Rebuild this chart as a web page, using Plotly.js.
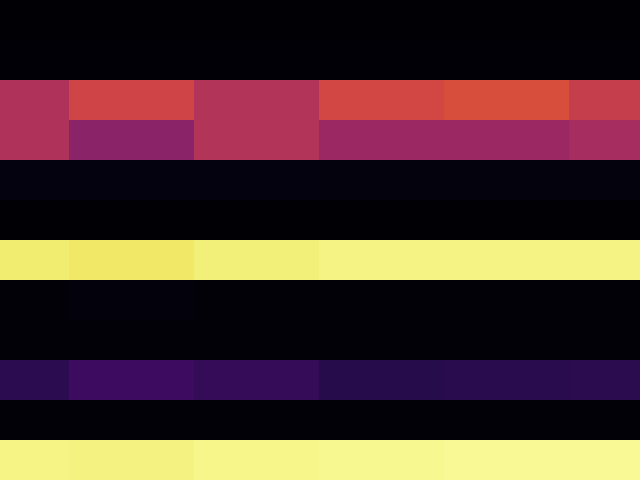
<!DOCTYPE html>
<html><head><meta charset="utf-8">
<script src="https://cdn.plot.ly/plotly-3.0.1.min.js"></script>
<style>html,body{margin:0;padding:0;background:#000;}#chart{width:640px;height:480px;}</style>
</head><body><div id="chart"></div>
<script>
const cols = [0, 1, 2, 3, 4, 5];
const rows = [0, 1, 2, 3, 4, 5, 6, 7, 8, 9, 10, 11];
const row0  = [0.001, 0.001, 0.001, 0.001, 0.001, 0.001];
const row1  = [0.004, 0.004, 0.004, 0.004, 0.004, 0.004];
const row2  = [0.470, 0.556, 0.480, 0.565, 0.585, 0.530];
const row3  = [0.470, 0.380, 0.480, 0.420, 0.420, 0.447];
const row4  = [0.020, 0.022, 0.018, 0.016, 0.016, 0.016];
const row5  = [0.002, 0.002, 0.002, 0.002, 0.002, 0.002];
const row6  = [0.950, 0.940, 0.958, 0.968, 0.968, 0.968];
const row7  = [0.007, 0.012, 0.007, 0.007, 0.007, 0.007];
const row8  = [0.007, 0.007, 0.007, 0.007, 0.007, 0.007];
const row9  = [0.152, 0.192, 0.170, 0.140, 0.143, 0.148];
const row10 = [0.006, 0.006, 0.006, 0.006, 0.006, 0.006];
const row11 = [0.970, 0.965, 0.975, 0.980, 0.985, 0.985];
const zValues = [row0,row1,row2,row3,row4,row5,row6,row7,row8,row9,row10,row11];

const inferno = [
  [0.0, '#000004'], [0.1111, '#1b0c41'], [0.2222, '#4a0c6b'], [0.3333, '#781c6d'],
  [0.4444, '#a52c60'], [0.5556, '#cf4446'], [0.6667, '#ed6925'], [0.7778, '#fb9b06'],
  [0.8889, '#f7d13d'], [0.95, '#f1ed71'], [1.0, '#fcffa4']
];

Plotly.newPlot('chart', [{
  type: 'heatmap', x: cols, y: rows, z: zValues,
  colorscale: inferno, zmin: 0, zmax: 1, showscale: false
}], {
  width: 640, height: 480,
  margin: {l: 0, r: 0, t: 0, b: 0},
  paper_bgcolor: '#000', plot_bgcolor: '#000',
  xaxis: {range: [-0.05, 5.06], visible: false, fixedrange: true},
  yaxis: {range: [11.5, -0.5], visible: false, fixedrange: true}
}, {displayModeBar: false, staticPlot: true});
</script></body></html>
